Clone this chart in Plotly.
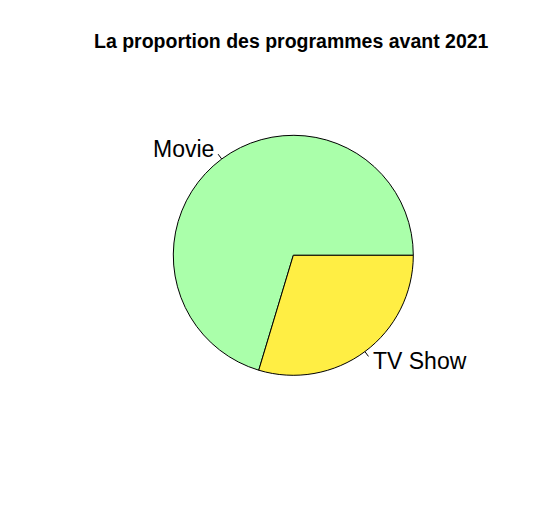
import math
import plotly.graph_objects as go

# Data
labels = ["Movie", "TV Show"]
values = [70.35, 29.65]
colors = ["#AAFFAA", "#FFEE44"]
title_text = "La proportion des programmes avant 2021"

W, H = 548, 531
cx, cy, r = 293.3, 255.3, 120.0  # pie centre / radius in pixels


def px_to_paper(x, y):
    return x / W, 1 - y / H


total = sum(values)
# R draws slices counter-clockwise from 3 o'clock; emulate by going clockwise
# from the end of the first slice.
rot = 90 - 360 * values[0] / total

fig = go.Figure()
x0, y0 = px_to_paper(cx - r, cy + r)
x1, y1 = px_to_paper(cx + r, cy - r)
fig.add_trace(go.Pie(
    labels=labels, values=values, sort=False, direction="clockwise",
    rotation=rot, textinfo="none", hoverinfo="label+percent",
    marker=dict(colors=colors, line=dict(color="black", width=1)),
    domain=dict(x=[x0, x1], y=[y0, y1]), showlegend=False,
))

# R-style labels with short leader ticks, positioned from slice mid-angles
cum = 0.0
shapes = []
annotations = []
for lab, v in zip(labels, values):
    mid = 2 * math.pi * (cum + v / 2) / total
    cum += v
    c, s = math.cos(mid), math.sin(mid)
    ax0, ay0 = px_to_paper(cx + r * c, cy - r * s)
    ax1, ay1 = px_to_paper(cx + 1.05 * r * c, cy - 1.05 * r * s)
    shapes.append(dict(type="line", xref="paper", yref="paper",
                       x0=ax0, y0=ay0, x1=ax1, y1=ay1,
                       line=dict(color="black", width=1)))
    tx, ty = px_to_paper(cx + 1.1 * r * c, cy - 1.1 * r * s)
    annotations.append(dict(
        text=lab, x=tx, y=ty, xref="paper", yref="paper", showarrow=False,
        xanchor="left" if c > 0 else "right", yanchor="middle",
        font=dict(family="Liberation Sans, Arial", size=23, color="black"),
        borderpad=0,
    ))

tx, ty = px_to_paper(291.5, 41)
annotations.append(dict(
    text="<b>" + title_text + "</b>", x=tx, y=ty, xref="paper", yref="paper",
    showarrow=False, xanchor="center", yanchor="middle",
    font=dict(family="Liberation Sans, Arial", size=19.5, color="black"),
))

fig.update_layout(
    width=W, height=H, margin=dict(l=0, r=0, t=0, b=0),
    paper_bgcolor="white", plot_bgcolor="white",
    shapes=shapes, annotations=annotations,
)

fig.write_html("out.html")
